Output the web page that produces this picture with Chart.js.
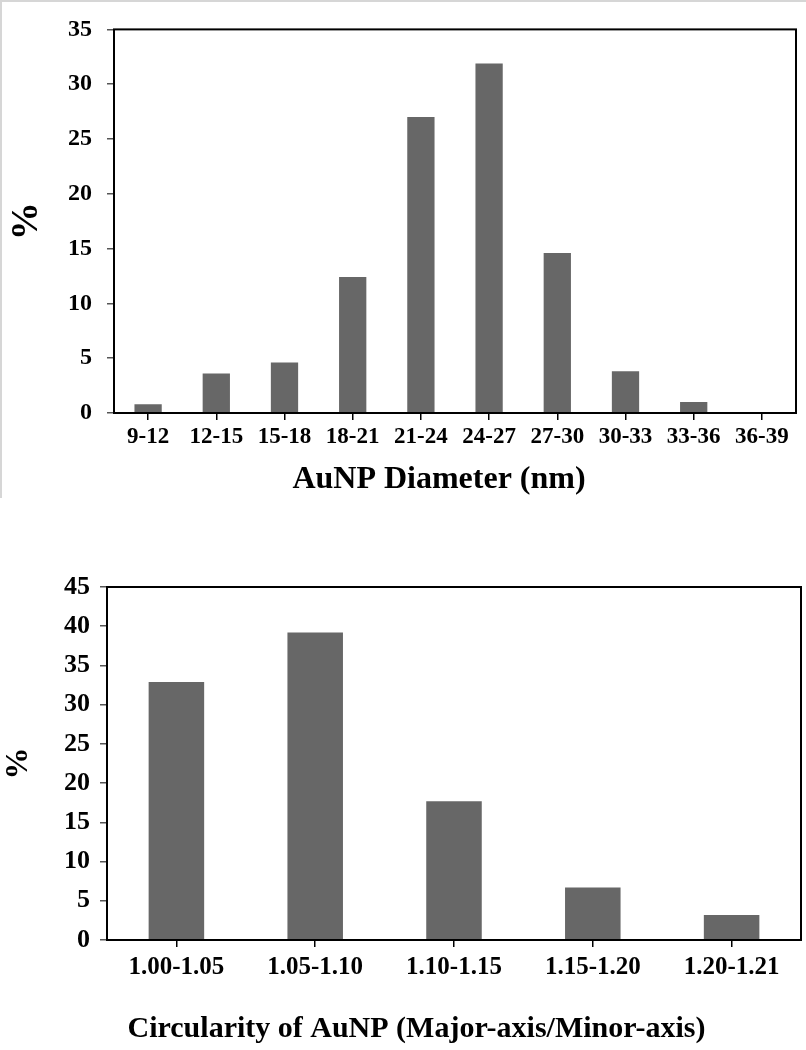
<!DOCTYPE html>
<html>
<head>
<meta charset="utf-8">
<script src="https://cdn.jsdelivr.net/npm/chart.js@4/dist/chart.umd.min.js"></script>
<style>
  html, body { margin: 0; padding: 0; background: #fff; }
  #page { position: relative; width: 806px; height: 1050px; overflow: hidden; }
  #topBox { position: absolute; left: 0; top: 0; width: 806px; height: 498px;
            border-top: 2px solid #d6d6d6; border-left: 2px solid #d6d6d6;
            box-sizing: border-box; pointer-events: none; }
  canvas { position: absolute; left: 0; }
</style>
</head>
<body>
<div id="page">
  <canvas id="diamChart" width="806" height="500" style="top:0"></canvas>
  <canvas id="circChart" width="806" height="550" style="top:500px"></canvas>
  <div id="topBox"></div>
</div>
<script>
'use strict';

// values
var diameterBins = ['9-12', '12-15', '15-18', '18-21', '21-24', '24-27', '27-30', '30-33', '33-36', '36-39'];
var diameterPct = [0.8, 3.6, 4.6, 12.4, 27.0, 31.9, 14.6, 3.8, 1.0, 0.1];
var diameterYMax = 35;

var circularityBins = ['1.00-1.05', '1.05-1.10', '1.10-1.15', '1.15-1.20', '1.20-1.21'];
var circularityPct = [32.9, 39.2, 17.7, 6.7, 3.2];
var circularityYMax = 45;

var yStep = 5;

var serif = "'Liberation Serif', 'Times New Roman', serif";
var barGrey = '#676767';
var nb = '\u00a0';

// box round the plot area
var framePlugin = {
  id: 'frame',
  afterDatasetsDraw: function(chart) {
    var a = chart.chartArea, ctx = chart.ctx;
    ctx.save();
    ctx.strokeStyle = '#000';
    ctx.lineWidth = 2;
    ctx.strokeRect(a.left, a.top, a.right - a.left, a.bottom - a.top);
    ctx.restore();
  }
};

function makeBarChart(id, labels, values, yMax, o) {
  return new Chart(id, {
    type: 'bar',
    data: {
      labels: labels,
      datasets: [{
        data: values,
        backgroundColor: barGrey,
        borderWidth: 0,
        categoryPercentage: 1,
        barPercentage: 0.4
      }]
    },
    options: {
      responsive: false,
      animation: false,
      layout: { padding: { top: o.padTop, right: o.padRight, left: 0, bottom: 0 } },
      plugins: { legend: { display: false }, tooltip: { enabled: false } },
      scales: {
        x: {
          grid: { display: true, drawOnChartArea: false, offset: false, tickLength: 7, tickColor: '#000', lineWidth: 1.5 },
          border: { display: false },
          ticks: { color: '#000', padding: o.xTickPad, maxRotation: 0, autoSkip: false,
                   font: { family: serif, weight: 'bold', size: o.xTickSize } },
          // trailing spaces nudge the centred title to the left, as in the picture
          title: { display: true, text: o.xTitle + nb.repeat(o.xTitleShift), color: '#000',
                   padding: { top: 0, bottom: o.xTitlePad },
                   font: { family: serif, weight: 'bold', size: o.xTitleSize } },
          afterFit: function(s) { s.height = o.xHeight; }
        },
        y: {
          min: 0,
          max: yMax,
          grid: { display: true, drawOnChartArea: false, tickLength: 7, tickColor: '#555', lineWidth: 1.5 },
          border: { display: false },
          ticks: { stepSize: yStep, color: '#000', padding: o.yTickPad,
                   font: { family: serif, weight: 'bold', size: o.yTickSize } },
          title: { display: true, text: '%', color: '#000', padding: { top: o.yTitlePad, bottom: 0 },
                   font: { family: serif, weight: 'bold', size: o.yTitleSize } },
          afterFit: function(s) { s.width = o.yWidth; }
        }
      }
    },
    plugins: [framePlugin]
  });
}

makeBarChart('diamChart', diameterBins, diameterPct, diameterYMax, {
  padTop: 14, padRight: 10, xHeight: 87, yWidth: 114,
  xTickSize: 23, xTickPad: 3, xTitle: 'AuNP Diameter (nm)', xTitleSize: 32, xTitlePad: 1, xTitleShift: 4,
  yTickSize: 24, yTickPad: 15, yTitleSize: 38, yTitlePad: 4
});

makeBarChart('circChart', circularityBins, circularityPct, circularityYMax, {
  padTop: 87, padRight: 5, xHeight: 110, yWidth: 107,
  xTickSize: 25, xTickPad: 6, xTitle: 'Circularity of AuNP (Major-axis/Minor-axis)', xTitleSize: 30, xTitlePad: 3, xTitleShift: 10,
  yTickSize: 26, yTickPad: 10, yTitleSize: 32, yTitlePad: 0
});
</script>
</body>
</html>
